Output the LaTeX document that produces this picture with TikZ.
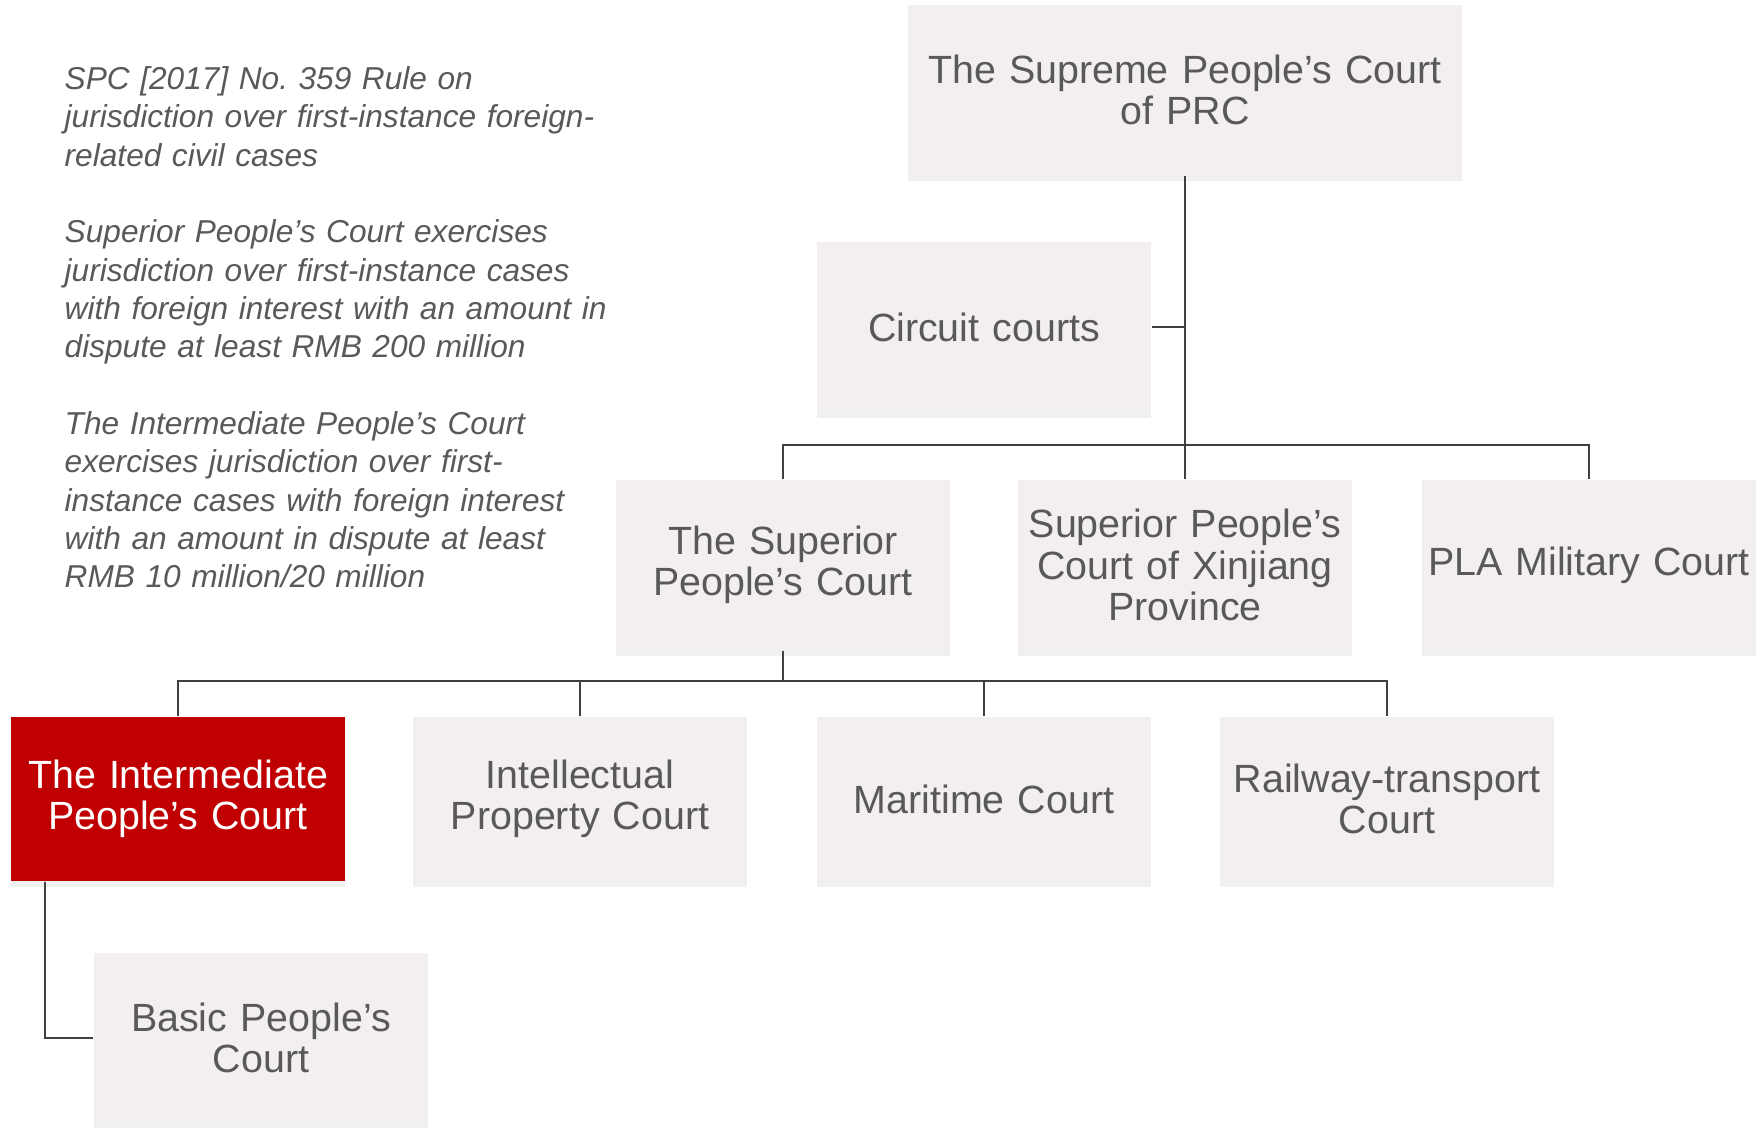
\documentclass[tikz,border=0pt]{standalone}
\usepackage{fontspec}
\setmainfont{Liberation Sans}
\usetikzlibrary{shadows}
\definecolor{boxgray}{RGB}{242,239,238}
\definecolor{txtgray}{RGB}{89,89,89}
\definecolor{courtred}{RGB}{192,0,0}
\frenchspacing

\begin{document}
\begin{tikzpicture}[x=0.01cm,y=-0.01cm,
    court/.style={fill=boxgray, text=txtgray, minimum width=3.34cm, minimum height=1.70cm,
      text width=3.3cm, align=center, inner sep=0pt, font=\fontsize{11.2}{11.8}\selectfont,
      drop shadow={opacity=0.12, shadow xshift=0pt, shadow yshift=-0.06cm}},
    lower/.style={minimum height=1.64cm},
    link/.style={draw=black!75, line width=0.5pt}]
    \useasboundingbox (0,0) rectangle (1756,1128);

    % note on the left
    \node[anchor=north west, inner sep=0pt, text width=6cm, align=left, text=txtgray,
      font=\fontsize{9.0}{10.9}\selectfont\itshape] (rule) at (64,66)
      {SPC [2017] No. 359 Rule on\\
       jurisdiction over first-instance foreign-\\
       related civil cases\\[10.9pt]
       Superior People’s Court exercises\\
       jurisdiction over first-instance cases\\
       with foreign interest with an amount in\\
       dispute at least RMB 200 million\\[10.9pt]
       The Intermediate People’s Court\\
       exercises jurisdiction over first-\\
       instance cases with foreign interest\\
       with an amount in dispute at least\\
       RMB 10 million/20 million};

    % courts
    \node[court, minimum width=5.54cm, text width=5.4cm] (sup) at (1185,90) {The Supreme People’s Court\\of PRC};
    \node[court] (circ) at (984,327) {Circuit courts};
    \node[court] (superior) at (783,565) {The Superior\\People’s Court};
    \node[court] (xinj) at (1185,565) {Superior People’s\\Court of Xinjiang\\Province};
    \node[court] (pla) at (1589,565) {PLA Military Court};
    \node[court, lower, fill=courtred, text=white] (inter) at (178,799) {The Intermediate\\People’s Court};
    \node[court, lower] (ip) at (580,799) {Intellectual\\Property Court};
    \node[court, lower] (mar) at (984,799) {Maritime Court};
    \node[court, lower] (rail) at (1387,799) {Railway-transport\\Court};
    \node[court] (basic) at (261,1038) {Basic People’s\\Court};

    % connectors
    \coordinate (bar1) at (1185,445);
    \coordinate (bar2) at (783,681);
    \draw[link] (sup.south) -- (xinj.north);
    \draw[link] (circ.east) -- (circ.east -| sup.south);
    \draw[link] (superior.north) |- (bar1) -| (pla.north);
    \draw[link] (superior.south) -- (bar2);
    \draw[link] (inter.north) |- (bar2) -| (rail.north);
    \draw[link] (ip.north) -- (ip.north |- bar2);
    \draw[link] (mar.north) -- (mar.north |- bar2);
    \draw[link] ([xshift=-1.33cm]inter.south) |- (basic.west);
\end{tikzpicture}
\end{document}
